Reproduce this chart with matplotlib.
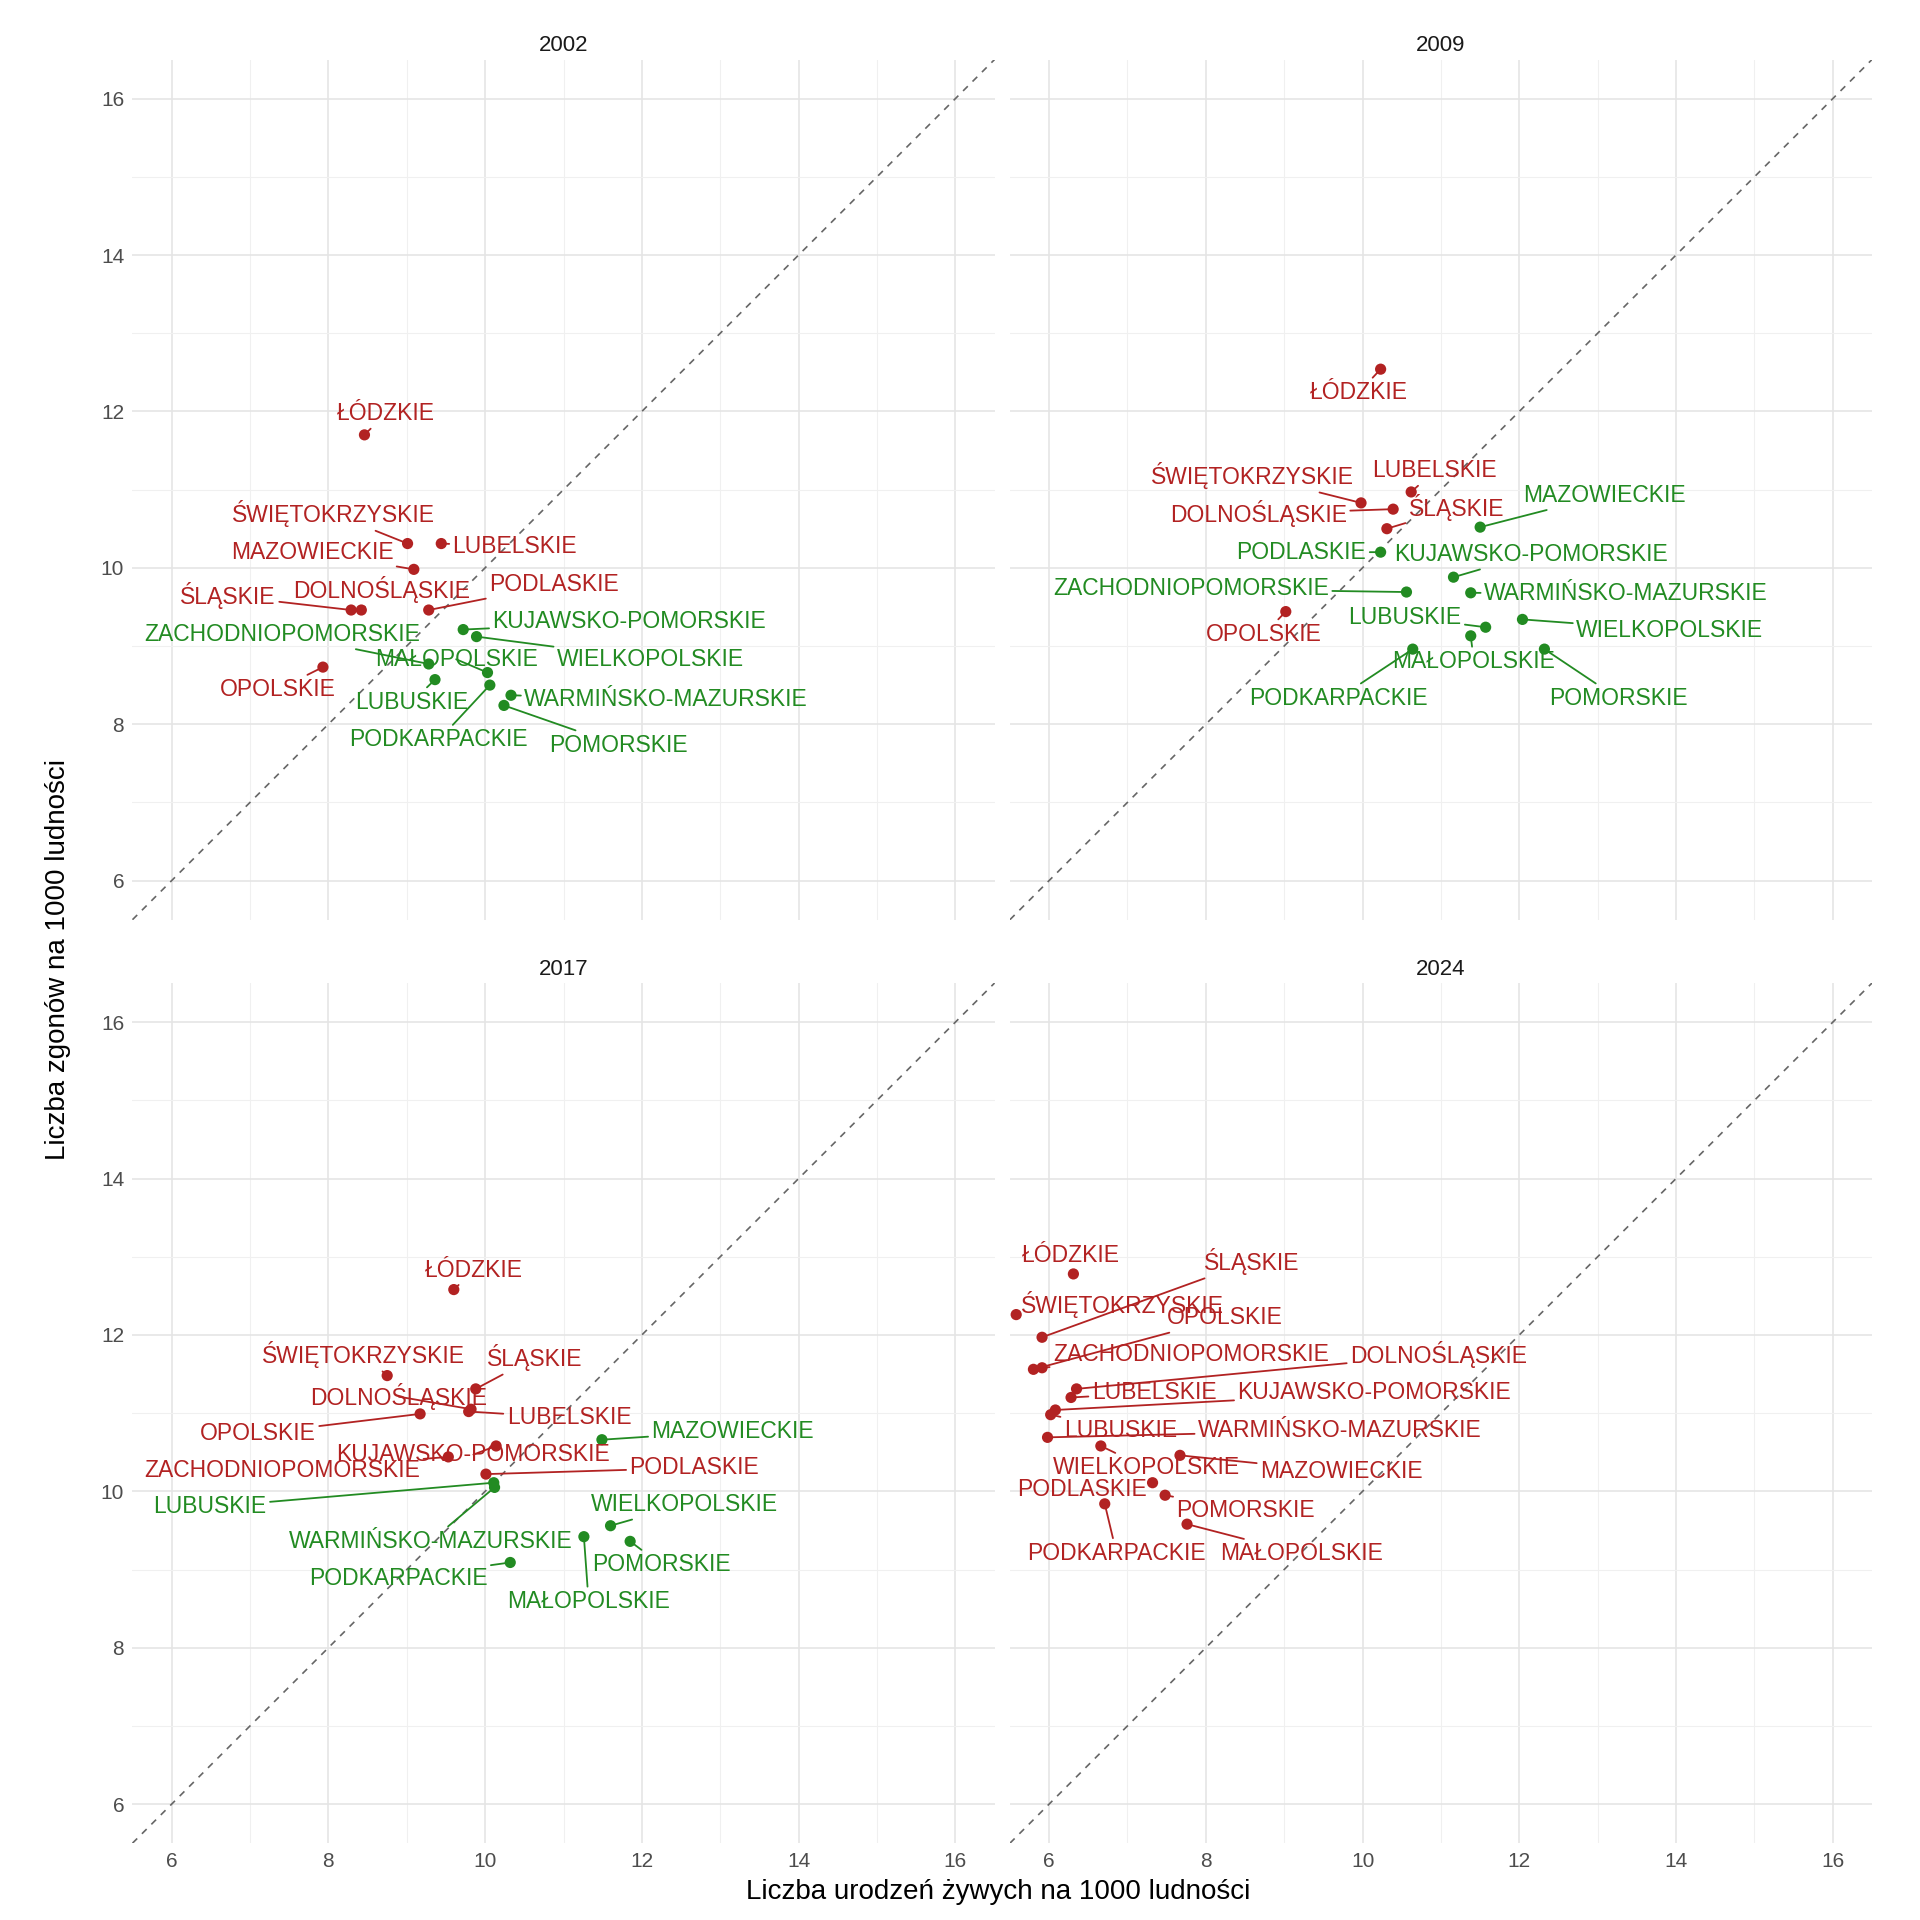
import matplotlib.pyplot as plt
import numpy as np

plt.rcParams["font.family"] = ["Liberation Sans", "DejaVu Sans"]

regions = ["DOLNOŚLĄSKIE", "KUJAWSKO-POMORSKIE", "LUBELSKIE", "LUBUSKIE", "ŁÓDZKIE",
           "MAŁOPOLSKIE", "MAZOWIECKIE", "OPOLSKIE", "PODKARPACKIE", "PODLASKIE",
           "POMORSKIE", "ŚLĄSKIE", "ŚWIĘTOKRZYSKIE", "WARMIŃSKO-MAZURSKIE",
           "WIELKOPOLSKIE", "ZACHODNIOPOMORSKIE"]
years = ["2002", "2009", "2017", "2024"]

# births per 1000, same order as regions
births_2002 = [8.42, 9.72, 9.44, 9.36, 8.46, 10.03, 9.09, 7.93, 10.06, 9.28, 10.24, 8.29, 9.01, 10.33, 9.89, 9.28]
deaths_2002 = [9.46, 9.21, 10.31, 8.57, 11.70, 8.66, 9.98, 8.73, 8.50, 9.46, 8.24, 9.46, 10.31, 8.37, 9.12, 8.77]
births_2009 = [10.39, 11.16, 10.62, 11.57, 10.23, 11.38, 11.50, 9.02, 10.64, 10.23, 12.32, 10.31, 9.98, 11.38, 12.04, 10.56]
deaths_2009 = [10.75, 9.88, 10.97, 9.24, 12.54, 9.13, 10.52, 9.44, 8.96, 10.20, 8.96, 10.50, 10.83, 9.68, 9.34, 9.69]
births_2017 = [9.82, 10.14, 9.79, 10.11, 9.60, 11.26, 11.49, 9.17, 10.32, 10.01, 11.85, 9.88, 8.75, 10.12, 11.60, 9.53]
deaths_2017 = [11.05, 10.58, 11.02, 10.11, 12.58, 9.42, 10.66, 10.99, 9.09, 10.22, 9.36, 11.31, 11.48, 10.05, 9.56, 10.44]
births_2024 = [6.35, 6.08, 6.28, 6.02, 6.31, 7.76, 7.67, 5.80, 6.71, 7.32, 7.48, 5.91, 5.58, 5.98, 6.66, 5.91]
deaths_2024 = [11.31, 11.04, 11.20, 10.98, 12.78, 9.58, 10.46, 11.56, 9.84, 10.11, 9.95, 11.97, 12.26, 10.69, 10.58, 11.58]

# label anchor positions (data coords), same order as regions
lab_2002 = [(8.68, 9.72), (11.84, 9.31), (10.38, 10.27), (9.06, 8.28), (8.73, 11.97), (9.63, 8.83),
            (7.79, 10.20), (7.35, 8.44), (9.41, 7.80), (10.88, 9.78), (11.70, 7.73), (6.72, 9.64),
            (8.06, 10.69), (12.31, 8.31), (12.11, 8.83), (7.41, 9.15)]
lab_2009 = [(8.67, 10.69), (12.15, 10.17), (10.92, 11.24), (10.54, 9.37), (9.95, 12.24), (11.42, 8.80),
            (13.09, 10.93), (8.74, 9.15), (9.69, 8.33), (9.22, 10.20), (13.26, 8.33), (11.20, 10.77),
            (8.59, 11.18), (13.36, 9.67), (13.92, 9.20), (7.81, 9.73)]
lab_2017 = [(8.90, 11.21), (9.85, 10.47), (11.07, 10.94), (6.49, 9.80), (9.86, 12.83), (11.32, 8.59),
            (13.16, 10.77), (7.10, 10.74), (8.89, 8.89), (12.67, 10.30), (12.25, 9.06), (10.63, 11.71),
            (8.45, 11.75), (9.30, 9.36), (12.54, 9.83), (7.41, 10.27)]
lab_2024 = [(10.97, 11.75), (10.15, 11.26), (7.34, 11.26), (6.91, 10.78), (6.27, 13.02), (9.22, 9.20),
            (9.73, 10.25), (8.24, 12.22), (6.86, 9.21), (6.42, 10.02), (8.51, 9.76), (8.58, 12.94),
            (6.93, 12.39), (9.71, 10.78), (7.24, 10.30), (7.81, 11.75)]

births = [births_2002, births_2009, births_2017, births_2024]
deaths = [deaths_2002, deaths_2009, deaths_2017, deaths_2024]
labels = [lab_2002, lab_2009, lab_2017, lab_2024]

RED = "#B22222"
GREEN = "#228B22"

fig = plt.figure(figsize=(19.2, 19.2), dpi=100)
boxes = [(0.069, 0.521), (0.526, 0.521), (0.069, 0.040), (0.526, 0.040)]
for i, (x0, y0) in enumerate(boxes):
    ax = fig.add_axes([x0, y0, 0.449, 0.448])
    ax.set_xlim(5.5, 16.5)
    ax.set_ylim(5.5, 16.5)
    ax.set_xticks([6, 8, 10, 12, 14, 16])
    ax.set_yticks([6, 8, 10, 12, 14, 16])
    ax.set_xticks([7, 9, 11, 13, 15], minor=True)
    ax.set_yticks([7, 9, 11, 13, 15], minor=True)
    ax.grid(which="major", color="#E5E5E5", linewidth=1.2)
    ax.grid(which="minor", color="#F0F0F0", linewidth=0.8)
    ax.set_axisbelow(True)
    for s in ax.spines.values():
        s.set_visible(False)
    ax.tick_params(which="both", length=0, labelsize=15, colors="#4D4D4D", pad=6)
    if i in (1, 3):
        ax.tick_params(labelleft=False)
    if i in (0, 1):
        ax.tick_params(labelbottom=False)
    ax.plot([5.5, 16.5], [5.5, 16.5], ls=(0, (4, 4)), color="#666666", lw=1.2)
    ax.set_title(years[i], fontsize=16, color="#1A1A1A", pad=6)

    b = np.array(births[i])
    d = np.array(deaths[i])
    cols = [RED if dd > bb else GREEN for bb, dd in zip(b, d)]
    ax.scatter(b, d, s=65, c=cols, zorder=3, edgecolors="none")
    for name, bb, dd, (lx, ly), c in zip(regions, b, d, labels[i], cols):
        ax.annotate(name, xy=(bb, dd), xytext=(lx, ly), ha="center", va="center",
                    fontsize=16.5, color=c,
                    bbox=dict(boxstyle="square,pad=0.15", fc="none", ec="none"),
                    arrowprops=dict(arrowstyle="-", color=c, lw=1.3, shrinkA=0, shrinkB=3))

fig.text(0.52, 0.008, "Liczba urodzeń żywych na 1000 ludności", ha="center", va="bottom", fontsize=20)
fig.text(0.03, 0.5, "Liczba zgonów na 1000 ludności", ha="center", va="center", rotation=90, fontsize=20)

fig.savefig("out.png", dpi=100, facecolor="white")
